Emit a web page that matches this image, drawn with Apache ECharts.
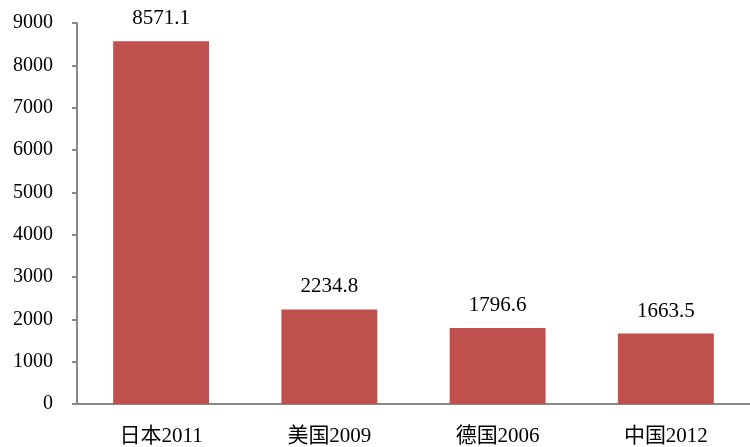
<!DOCTYPE html>
<html>
<head>
<meta charset="utf-8">
<script src="https://cdn.jsdelivr.net/npm/echarts@6/dist/echarts.min.js"></script>
<style>
html, body { margin: 0; padding: 0; background: #fff; }
#main { width: 750px; height: 447px; }
</style>
</head>
<body>
<div id="main"></div>
<script>
// 类目与数值
const categories = ['日本2011', '美国2009', '德国2006', '中国2012'];
const values = [8571.1, 2234.8, 1796.6, 1663.5];

const fontFam = '"Liberation Serif", "Times New Roman", "Noto Sans CJK SC", serif';

var myChart = echarts.init(document.getElementById('main'));
var option = {
	animation: false,
	grid: {
		left: 77,
		right: -2,
		top: 23,
		bottom: 42
	},
	xAxis: {
		type: 'category',
		data: categories,
		axisLine: { lineStyle: { color: '#888888', width: 2 } },
		axisTick: { show: false },
		axisLabel: {
			color: '#000',
			fontSize: 21,
			fontFamily: fontFam,
			margin: 22
		}
	},
	yAxis: {
		type: 'value',
		min: 0,
		max: 9000,
		interval: 1000,
		splitLine: { show: false },
		axisLine: { show: true, lineStyle: { color: '#888888', width: 2 } },
		axisTick: { show: true, length: 5, lineStyle: { color: '#888888', width: 2 } },
		axisLabel: {
			color: '#000',
			fontSize: 20,
			fontFamily: fontFam,
			margin: 24,
			formatter: function (v) { return String(v); }
		}
	},
	series: [{
		type: 'bar',
		data: values,
		barCategoryGap: '43%',
		itemStyle: { color: '#C0504D' },
		label: {
			show: true,
			position: 'top',
			distance: 12,
			color: '#000',
			fontSize: 21,
			fontFamily: fontFam,
			formatter: function (p) { return p.value.toFixed(1); }
		}
	}]
};
myChart.setOption(option);
</script>
</body>
</html>
